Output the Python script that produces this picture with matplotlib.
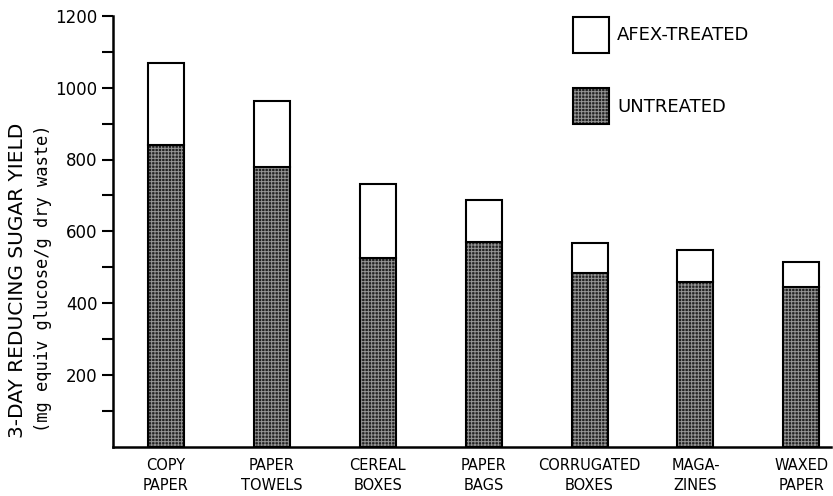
import matplotlib
matplotlib.use("Agg")
import matplotlib.pyplot as plt
import numpy as np

# 數據
categories = ["COPY\nPAPER", "PAPER\nTOWELS", "CEREAL\nBOXES", "PAPER\nBAGS",
              "CORRUGATED\nBOXES", "MAGA-\nZINES", "WAXED\nPAPER"]
untreated = [840, 780, 525, 569, 485, 458, 445]
afex_treated = [1070, 963, 731, 687, 568, 548, 515]

plt.rcParams['font.family'] = ['DejaVu Sans']
plt.rcParams['hatch.linewidth'] = 0.7

fig = plt.figure(figsize=(8.33, 4.96), dpi=100)
ax = fig.add_axes([113/833, 49.5/496, 718/833, 430.5/496])

x = np.arange(len(categories))
w = 0.34
gain = np.array(afex_treated) - np.array(untreated)

# untreated: 深色網點
b_fill = ax.bar(x, untreated, w, color="#222222", edgecolor="#959595", hatch="+++++", lw=0)
b_edge = ax.bar(x, untreated, w, fill=False, edgecolor="black", lw=1.5)
# AFEX-treated 增量: 白色
b_top = ax.bar(x, gain, w, bottom=untreated, color="white", edgecolor="black", lw=1.5)

ax.set_xlim(-0.5, 6.28)
ax.set_ylim(0, 1200)
ax.set_yticks(range(200, 1201, 200))
ax.set_yticks(range(100, 1200, 200), minor=True)
ax.set_xticks(x)
ax.set_xticklabels(categories, fontsize=10.5, linespacing=1.45)
ax.tick_params(axis='x', length=0, pad=8)
ax.tick_params(axis='y', which='both', direction='out', length=8, width=1.5, labelsize=12, pad=3)

for s in ["top", "right"]:
    ax.spines[s].set_visible(False)
for s in ["left", "bottom"]:
    ax.spines[s].set_linewidth(1.8)

fig.text(18/833, 1-280/496, "3-DAY REDUCING SUGAR YIELD", rotation=90,
         ha="center", va="center", fontsize=14.5)
fig.text(43/833, 1-278/496, "(mg equiv glucose/g dry waste)", rotation=90,
         ha="center", va="center", fontsize=12.3, family="DejaVu Sans Mono")

ax.legend([b_top, (b_fill, b_edge)], ["AFEX-TREATED", "UNTREATED"],
          loc="upper left", bbox_to_anchor=(573/833, 1-17/496), bbox_transform=fig.transFigure,
          frameon=False, borderpad=0, borderaxespad=0, fontsize=13,
          handlelength=2.0, handleheight=2.7, handletextpad=0.45, labelspacing=1.94)

fig.savefig("out.png", dpi=100)
